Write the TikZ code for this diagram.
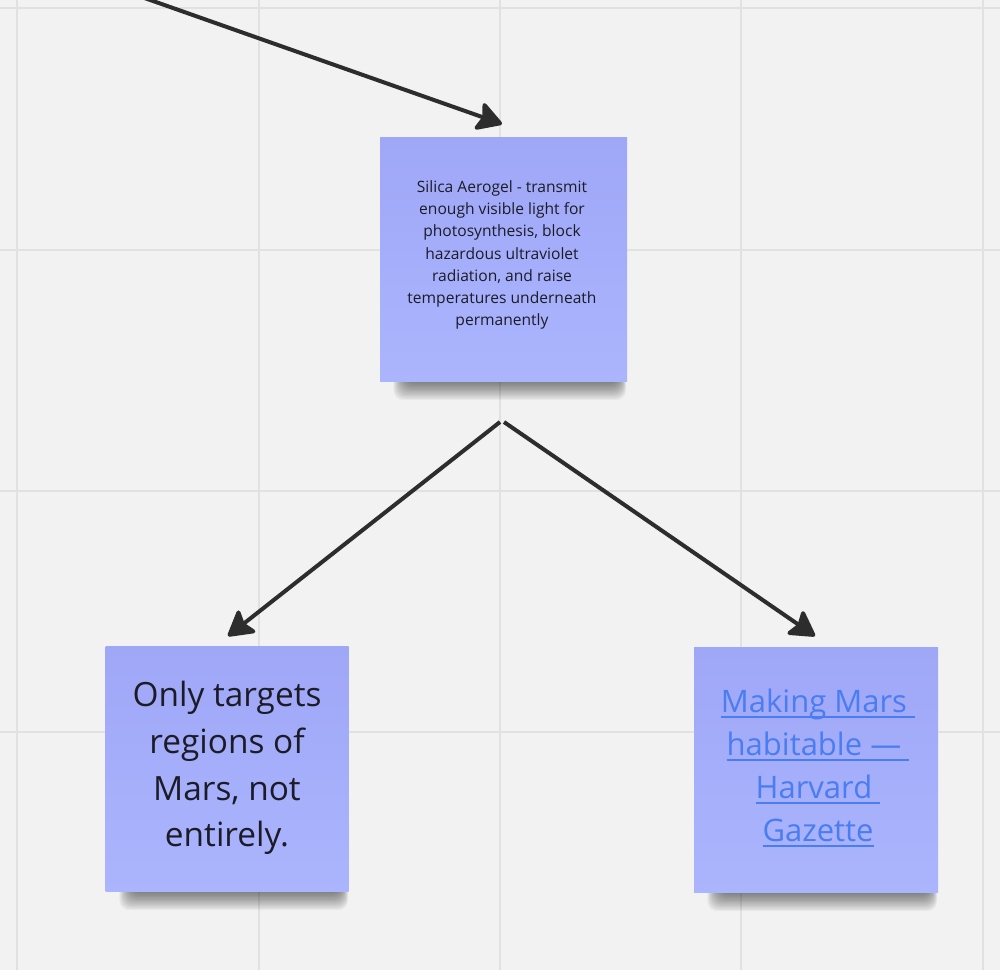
\documentclass[tikz,border=0pt]{standalone}
\usepackage{fontspec}
\setmainfont{Open Sans}
\usetikzlibrary{arrows.meta,calc}
\definecolor{bgc}{HTML}{F2F2F2}
\definecolor{gridc}{HTML}{E1E1E1}
\definecolor{notetop}{HTML}{9FA7F7}
\definecolor{notebot}{HTML}{ABB5FD}
\definecolor{inkc}{HTML}{1C1C28}
\definecolor{linkc}{HTML}{4A7CF2}
\definecolor{arrowc}{HTML}{2D2D2D}
\newcommand\linkul[1]{\setbox0\hbox{#1}\rlap{\color{linkc}\rule[-5pt]{\wd0}{1.8pt}}\box0}
\newcommand\noteshadow[3]{% x1, x2, bottom y
  \foreach \k in {1,...,14} {
    \fill[black, opacity=0.04, rounded corners=10pt]
      ({#1+26-\k*0.9},{#3-24}) rectangle ({#2-8+\k*0.5},{#3+1+\k*1.3});
  }}
\tikzset{
  note/.style={rectangle, inner sep=0pt, top color=notetop, bottom color=notebot, draw=none},
  notetext/.style={align=center, text=inkc, inner sep=0pt},
  conn/.style={draw=arrowc, line width=4pt, -{Stealth[length=28pt,width=32pt,inset=5pt,round]}},
  gridline/.style={draw=gridc, line width=2pt},
}
\begin{document}
\begin{tikzpicture}[x=1pt,y=-1pt]
\useasboundingbox (0,0) rectangle (1000,970);
\clip (0,0) rectangle (1000,970);
\fill[bgc] (0,0) rectangle (1000,970);
% grid
\foreach \gx in {17,259,500,741,983} {\path[gridline] (\gx,0) -- (\gx,970);}
\foreach \gy in {8,250,491,732} {\path[gridline] (0,\gy) -- (1000,\gy);}
% shadows
\noteshadow{380}{627}{381}
\noteshadow{106}{349}{891}
\noteshadow{694}{938}{892}
% notes
\node[note, minimum width=247pt, minimum height=244pt] (top) at (503.5,259) {};
\node[note, minimum width=243pt, minimum height=245pt] (left) at (227,769) {};
\node[note, minimum width=244pt, minimum height=245pt] (right) at (816,769.5) {};
% texts
\node[notetext, font=\fontsize{15.6}{22.1}\selectfont] (toptext) at (502,255)
  {Silica Aerogel - transmit\\enough visible light for\\photosynthesis, block\\hazardous ultraviolet\\radiation, and raise\\temperatures underneath\\permanently};
\node[notetext, font=\fontsize{33.4}{46.7}\selectfont] (lefttext) at (227,768)
  {Only targets\\regions of\\Mars, not\\entirely.};
\node[notetext, text=linkc, font=\fontsize{31}{43}\selectfont] (righttext) at (818,768)
  {\linkul{Making Mars\ }\\\linkul{habitable —\ }\\\linkul{Harvard\ }\\\linkul{Gazette}};
% connector ends
\coordinate (src) at (-20,-60);
\coordinate (toptip) at (502,124);
\coordinate (splitl) at (500,422);
\coordinate (splitr) at (504,422);
\coordinate (lefttip) at (228,636);
\coordinate (righttip) at (815,636);
\draw[conn] (src) -- (toptip);
\draw[conn] (splitl) -- (lefttip);
\draw[conn] (splitr) -- (righttip);
\end{tikzpicture}
\end{document}
